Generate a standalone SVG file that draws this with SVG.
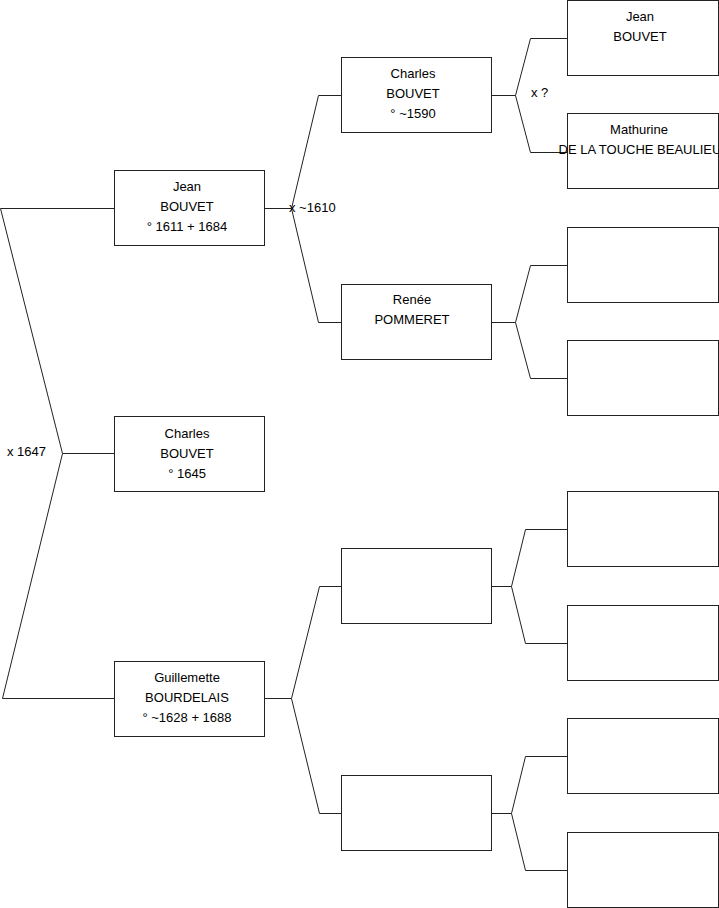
<svg xmlns="http://www.w3.org/2000/svg" width="719" height="908" viewBox="0 0 719 908">
<style>
.box{fill:#fff;stroke:#222;stroke-width:1}
.ln{fill:none;stroke:#222;stroke-width:1}
text{font-family:"Liberation Sans",Arial,sans-serif;font-size:13px;fill:#000}
.c{text-anchor:middle}
</style>
<rect width="719" height="908" fill="#fff"/>
<g id="connectors">
<polyline class="ln" points="114.5,208.5 0.5,208.5 62.5,453.5 2.5,698.5 114.5,698.5"/>
<line class="ln" x1="62.5" y1="453.5" x2="114.5" y2="453.5"/>
<polyline class="ln" points="341.5,95.5 318.5,95.5 291.5,208.5 318.5,322.5 341.5,322.5"/>
<line class="ln" x1="264.5" y1="208.5" x2="291.5" y2="208.5"/>
<polyline class="ln" points="341.5,586.5 319.5,586.5 291.5,698.5 319.5,813.5 341.5,813.5"/>
<line class="ln" x1="264.5" y1="698.5" x2="291.5" y2="698.5"/>
<polyline class="ln" points="567.5,38.5 530.5,38.5 515.5,95.5 530.5,152.5 567.5,152.5"/>
<line class="ln" x1="491.5" y1="95.5" x2="515.5" y2="95.5"/>
<polyline class="ln" points="567.5,265.5 530.5,265.5 515.5,322.5 530.5,378.5 567.5,378.5"/>
<line class="ln" x1="491.5" y1="322.5" x2="515.5" y2="322.5"/>
<polyline class="ln" points="567.5,529.5 525.5,529.5 511.5,586.5 525.5,643.5 567.5,643.5"/>
<line class="ln" x1="491.5" y1="586.5" x2="511.5" y2="586.5"/>
<polyline class="ln" points="567.5,756.5 525.5,756.5 511.5,813.5 525.5,870.5 567.5,870.5"/>
<line class="ln" x1="491.5" y1="813.5" x2="511.5" y2="813.5"/>
<text x="7" y="456">x 1647</text>
<text x="289" y="212">x ~1610</text>
<text x="531" y="97">x ?</text>
</g>
<g id="n-jean">
<rect class="box" x="114.5" y="170.5" width="150" height="75"/>
<text class="c" x="187" y="191">Jean</text>
<text class="c" x="187" y="211">BOUVET</text>
<text class="c" x="187" y="231">° 1611 + 1684</text>
</g>
<g id="n-charles">
<rect class="box" x="114.5" y="416.5" width="150" height="75"/>
<text class="c" x="187" y="438">Charles</text>
<text class="c" x="187" y="458">BOUVET</text>
<text class="c" x="187" y="478">° 1645</text>
</g>
<g id="n-guillemette">
<rect class="box" x="114.5" y="661.5" width="150" height="75"/>
<text class="c" x="187" y="682">Guillemette</text>
<text class="c" x="187" y="702">BOURDELAIS</text>
<text class="c" x="187" y="722">° ~1628 + 1688</text>
</g>
<g id="n-charles-pere">
<rect class="box" x="341.5" y="57.5" width="150" height="75"/>
<text class="c" x="413" y="78">Charles</text>
<text class="c" x="413" y="98">BOUVET</text>
<text class="c" x="413" y="118">° ~1590</text>
</g>
<g id="n-renee">
<rect class="box" x="341.5" y="284.5" width="150" height="75"/>
<text class="c" x="412" y="304">Renée</text>
<text class="c" x="412" y="324">POMMERET</text>
</g>
<g id="n-empty-1">
<rect class="box" x="341.5" y="548.5" width="150" height="75"/>
</g>
<g id="n-empty-2">
<rect class="box" x="341.5" y="775.5" width="150" height="75"/>
</g>
<g id="n-jean-gp">
<rect class="box" x="567.5" y="0.5" width="151" height="75"/>
<text class="c" x="640" y="21">Jean</text>
<text class="c" x="640" y="41">BOUVET</text>
</g>
<g id="n-mathurine">
<rect class="box" x="567.5" y="113.5" width="151" height="75"/>
<text class="c" x="639" y="134">Mathurine</text>
<text class="c" x="640" y="154">DE LA TOUCHE BEAULIEU</text>
</g>
<g id="n-empty-3"><rect class="box" x="567.5" y="227.5" width="151" height="75"/></g>
<g id="n-empty-4"><rect class="box" x="567.5" y="340.5" width="151" height="75"/></g>
<g id="n-empty-5"><rect class="box" x="567.5" y="491.5" width="151" height="75"/></g>
<g id="n-empty-6"><rect class="box" x="567.5" y="605.5" width="151" height="75"/></g>
<g id="n-empty-7"><rect class="box" x="567.5" y="718.5" width="151" height="75"/></g>
<g id="n-empty-8"><rect class="box" x="567.5" y="832.5" width="151" height="75"/></g>
</svg>
